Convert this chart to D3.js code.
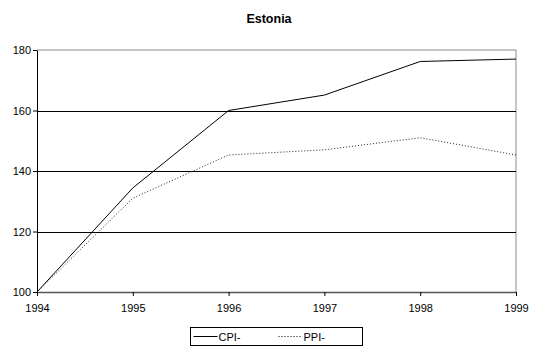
<!DOCTYPE html>
<html>
<head>
<meta charset="utf-8">
<script src="https://cdn.jsdelivr.net/npm/d3@7"></script>
<style>
  html, body { margin: 0; padding: 0; background: #fff; }
  svg { display: block; font-family: "Liberation Sans", Arial, sans-serif; }
</style>
</head>
<body>
<svg id="chart" width="534" height="352"></svg>
<script>
// Estonia: price indices, 1994 = 100
const years = [1994, 1995, 1996, 1997, 1998, 1999];
const cpi = [100, 134.4, 160, 165.1, 176.2, 177];
const ppi = [100, 131, 145.3, 147, 151, 145.3];
const yTicks = [100, 120, 140, 160, 180];
const seriesNames = ["CPI-", "PPI-"];

const svg = d3.select("#chart");
const margin = { left: 37, right: 18, top: 50, bottom: 60 };
const W = 534, H = 352;

const x = d3.scaleLinear().domain([1994, 1999]).range([margin.left, W - margin.right]);
const y = d3.scaleLinear().domain([100, 180]).range([H - margin.bottom, margin.top]);

// title
svg.append("text")
  .attr("x", 269).attr("y", 23)
  .attr("text-anchor", "middle")
  .attr("font-size", 12.5).attr("font-weight", "bold")
  .text("Estonia");

// plot frame (top/right)
svg.append("path")
  .attr("d", `M${x(1994)},${y(180)}H${x(1999)}V${y(100)}`)
  .attr("fill", "none").attr("stroke", "#8c8c8c").attr("stroke-width", 1);

// gridlines
svg.append("g").selectAll("line")
  .data(yTicks.filter(d => d > 100 && d < 180))
  .join("line")
  .attr("x1", x(1994)).attr("x2", x(1999))
  .attr("y1", d => Math.round(y(d)) + 0.5).attr("y2", d => Math.round(y(d)) + 0.5)
  .attr("stroke", "#000").attr("stroke-width", 1);

// y axis
const yAxis = svg.append("g")
  .attr("transform", `translate(${x(1994)},0)`)
  .call(d3.axisLeft(y).tickValues(yTicks).tickSize(4).tickSizeOuter(0).tickPadding(2));
yAxis.select(".domain").attr("stroke", "#000");
yAxis.selectAll(".tick line").attr("stroke", "#000");
yAxis.selectAll("text").attr("font-size", 11).attr("font-family", "Liberation Sans, Arial, sans-serif").attr("fill", "#000");

// x axis
const xAxis = svg.append("g")
  .attr("transform", `translate(0,${y(100)})`)
  .call(d3.axisBottom(x).tickValues(years).tickFormat(d3.format("d")).tickSize(4).tickSizeOuter(0).tickPadding(8));
xAxis.select(".domain").attr("stroke", "#555").attr("stroke-width", 1.5);
xAxis.selectAll(".tick line").attr("stroke", "#000");
xAxis.selectAll("text").attr("font-size", 11).attr("font-family", "Liberation Sans, Arial, sans-serif").attr("fill", "#000");

const line = d3.line().x((d, i) => x(years[i])).y(d => y(d));

svg.append("path")
  .datum(cpi)
  .attr("d", line)
  .attr("fill", "none").attr("stroke", "#000").attr("stroke-width", 1);

svg.append("path")
  .datum(ppi)
  .attr("d", line)
  .attr("fill", "none").attr("stroke", "#222").attr("stroke-width", 1)
  .attr("stroke-dasharray", "1,2");

// legend
const lg = svg.append("g").attr("transform", "translate(190.5,327.5)");
lg.append("rect").attr("width", 172).attr("height", 18)
  .attr("fill", "#fff").attr("stroke", "#000").attr("stroke-width", 1);
const items = [
  { name: seriesNames[0], dash: null, x0: 3 },
  { name: seriesNames[1], dash: "1,2", x0: 88 }
];
items.forEach(it => {
  lg.append("line")
    .attr("x1", it.x0).attr("x2", it.x0 + 24)
    .attr("y1", 9).attr("y2", 9)
    .attr("stroke", "#000").attr("stroke-width", 1)
    .attr("stroke-dasharray", it.dash);
  lg.append("text")
    .attr("x", it.x0 + 25).attr("y", 13.5)
    .attr("font-size", 11)
    .text(it.name);
});
</script>
</body>
</html>
